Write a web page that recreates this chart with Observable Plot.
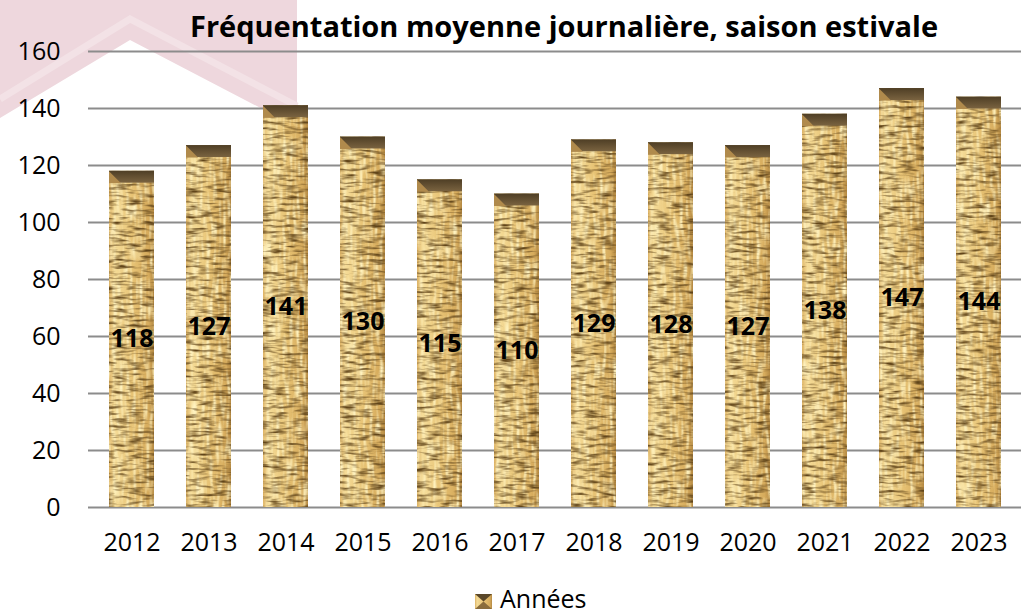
<!DOCTYPE html>
<html>
<head>
<meta charset="utf-8">
<script src="https://cdn.jsdelivr.net/npm/d3@7"></script>
<script src="https://cdn.jsdelivr.net/npm/@observablehq/plot@0.6"></script>
<style>
  html, body { margin: 0; padding: 0; background: #fff; }
  #page { position: relative; width: 1021px; height: 616px; overflow: hidden; font-family: "Open Sans", sans-serif; color: #000; }
  #wm { position: absolute; left: 0; top: 0; z-index: 0; }
  #chart { position: absolute; left: 0; top: 0; z-index: 1; }
  #title { position: absolute; left: 564px; top: 11px; transform: translateX(-50%); white-space: nowrap;
           font-weight: 700; font-size: 29px; line-height: 29px; z-index: 2; }
  #legend { position: absolute; left: 475px; top: 586px; z-index: 2; display: flex; align-items: flex-end;
            font-size: 25px; line-height: 25px; }
  #legend svg { margin-right: 8px; margin-bottom: 2px; }
</style>
</head>
<body>
<div id="page">
  <svg id="wm" width="300" height="140">
    <polygon points="0,0 297,0 297,127 130,40 0,118" fill="#eed7dd"/>
    <polyline points="0,99 130,19 297,106" fill="none" stroke="#f3e2e6" stroke-width="7"/>
  </svg>
  <div id="title">Fréquentation moyenne journalière, saison estivale</div>
  <div id="chart"></div>
  <div id="legend"><svg width="17" height="15"><rect width="17" height="15" fill="url(#barGrad)"/><polygon points="0,0 17,0 8.5,7.5" fill="#5a4729"/><polygon points="0,15 17,15 8.5,7.5" fill="#8a6c3c"/></svg><span>Années</span></div>
</div>
<script>
// ---- data ----
const years = ["2012", "2013", "2014", "2015", "2016", "2017", "2018", "2019", "2020", "2021", "2022", "2023"];
const values = [118, 127, 141, 130, 115, 110, 129, 128, 127, 138, 147, 144];
const yTicks = [0, 20, 40, 60, 80, 100, 120, 140, 160];

const data = years.map((year, i) => ({year, value: values[i]}));

const tri = {
  draw(ctx) {
    ctx.moveTo(-6, -6);
    ctx.lineTo(-6, 6);
    ctx.lineTo(6, 6);
    ctx.closePath();
  }
};

const chart = Plot.plot({
  width: 1021,
  height: 616,
  marginTop: 51,
  marginBottom: 109,
  marginLeft: 88,
  marginRight: 0,
  style: {fontFamily: "Open Sans", fontSize: "25px", background: "transparent", color: "#000"},
  x: {domain: years, padding: 0, tickSize: 0, tickPadding: 26, label: null},
  y: {domain: [0, 160], ticks: yTicks, tickSize: 0, tickPadding: 28, label: null, tickFormat: d => String(d)},
  marks: [
    Plot.ruleY(yTicks, {stroke: "#8c8c8c", strokeWidth: 2}),
    Plot.barY(data, {x: "year", y: "value", fill: "url(#barGrad)", insetLeft: 16, insetRight: 16}),
    Plot.barY(data, {x: "year", y1: "value", y2: "value", insetLeft: 16, insetRight: 16, insetBottom: -12, fill: "url(#capGrad)"}),
    Plot.dot(data, {x: "year", y: "value", dx: -17, dy: 6, symbol: tri, r: 6, fill: "#b08a4c", stroke: "none"}),
    Plot.text(data, {x: "year", y: d => d.value / 2, text: d => String(d.value), fontWeight: "bold", fontSize: 25, fill: "#000"})
  ]
});

const ns = "http://www.w3.org/2000/svg";
const defs = document.createElementNS(ns, "defs");
defs.innerHTML = `
  <linearGradient id="barGrad" x1="0" y1="0" x2="1" y2="0">
    <stop offset="0" stop-color="#dcb265"/>
    <stop offset="0.12" stop-color="#f5dc98"/>
    <stop offset="0.5" stop-color="#e8c476"/>
    <stop offset="0.88" stop-color="#d6ab5c"/>
    <stop offset="1" stop-color="#b48943"/>
  </linearGradient>
  <linearGradient id="capGrad" x1="0" y1="0" x2="0" y2="1">
    <stop offset="0" stop-color="#4e3e25"/>
    <stop offset="1" stop-color="#7a6340"/>
  </linearGradient>
  <filter id="burlap" x="0" y="0" width="1" height="1" filterUnits="objectBoundingBox" color-interpolation-filters="sRGB">
    <feTurbulence type="fractalNoise" baseFrequency="0.3 0.05" numOctaves="1" seed="3" result="n2"/>
    <feColorMatrix in="n2" type="matrix" values="0 0 0 0 1  0 0 0 0 0.95  0 0 0 0 0.75  2.8 0 0 0 -1.2" result="light"/>
    <feComposite in="light" in2="SourceGraphic" operator="atop" result="s1"/>
    <feTurbulence type="fractalNoise" baseFrequency="0.07 0.32" numOctaves="2" seed="7" result="n1"/>
    <feColorMatrix in="n1" type="matrix" values="0 0 0 0 0.38  0 0 0 0 0.27  0 0 0 0 0.1  2.6 0 0 0 -1.15" result="dark"/>
    <feComposite in="dark" in2="s1" operator="atop"/>
  </filter>`;
chart.insertBefore(defs, chart.firstChild);
chart.querySelectorAll('[fill="url(#barGrad)"]').forEach(el => {
  if (el.tagName.toLowerCase() === "g") {
    el.querySelectorAll("rect").forEach(r => r.setAttribute("filter", "url(#burlap)"));
  } else if (el.tagName.toLowerCase() === "rect") {
    el.setAttribute("filter", "url(#burlap)");
  }
});

document.getElementById("chart").appendChild(chart);
</script>
</body>
</html>
